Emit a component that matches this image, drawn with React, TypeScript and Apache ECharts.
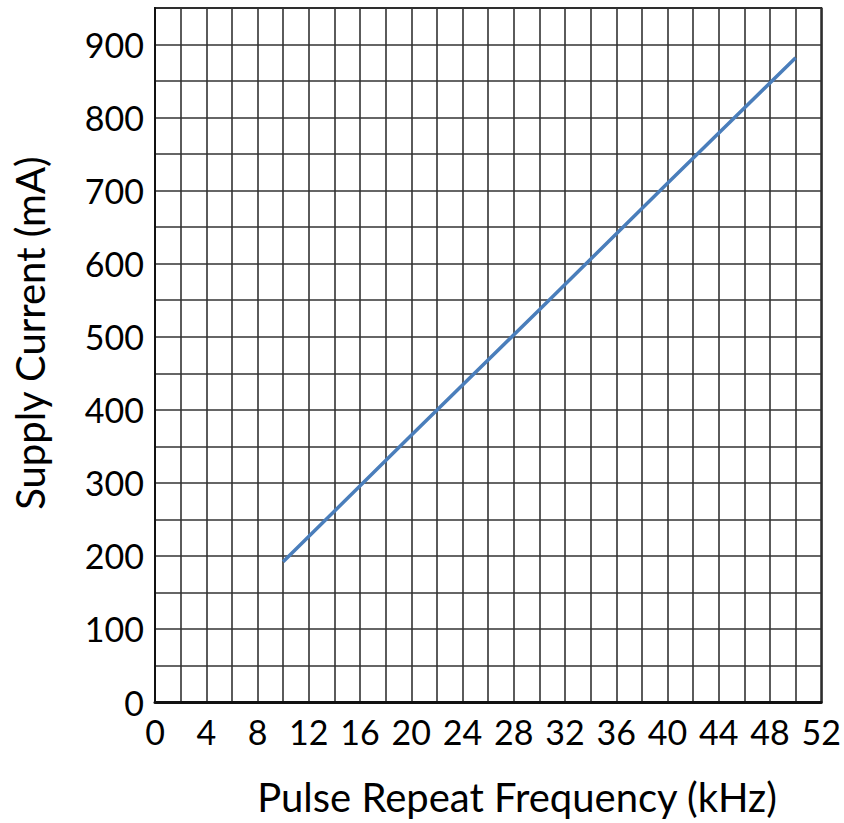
import React, { useEffect, useRef } from "react";
import * as echarts from "echarts";

const frequency = [10, 20, 30, 40, 50];
const current = [192, 365, 537, 710, 882];
const xTitle = "Pulse Repeat Frequency (kHz)";
const yTitle = "Supply Current (mA)";

export default function App() {
  const ref = useRef<HTMLDivElement>(null);
  useEffect(() => {
    const chart = echarts.init(ref.current!, null, { renderer: "svg" });
    const font = "Lato, 'Open Sans', sans-serif";
    chart.setOption({
      animation: false,
      backgroundColor: "#fff",
      grid: {
        left: 155,
        top: 8,
        right: 21,
        bottom: 121,
        show: true,
        borderColor: "#222",
        borderWidth: 2,
      },
      xAxis: {
        type: "value",
        min: 0,
        max: 52,
        interval: 2,
        axisLine: { show: true, lineStyle: { color: "#111", width: 3 } },
        axisTick: { show: false },
        splitLine: { show: true, lineStyle: { color: "#333", width: 1.6 } },
        axisLabel: {
          color: "#000",
          fontSize: 34,
          fontFamily: font,
          margin: 12,
          formatter: (v: number) => (v % 4 === 0 ? String(v) : ""),
        },
      },
      yAxis: {
        type: "value",
        min: 0,
        max: 950,
        interval: 50,
        axisLine: { show: true, lineStyle: { color: "#111", width: 2 } },
        axisTick: { show: false },
        splitLine: { show: true, lineStyle: { color: "#333", width: 1.6 } },
        axisLabel: {
          color: "#000",
          fontSize: 34,
          fontFamily: font,
          margin: 11,
          formatter: (v: number) => (v % 100 === 0 ? String(v) : ""),
        },
      },
      graphic: [
        {
          type: "text",
          x: 517,
          y: 797,
          style: {
            text: xTitle,
            fontSize: 40,
            fontFamily: font,
            fill: "#000",
            align: "center",
            verticalAlign: "middle",
          },
        },
        {
          type: "text",
          x: 30,
          y: 333,
          rotation: Math.PI / 2,
          style: {
            text: yTitle,
            fontSize: 40,
            fontFamily: font,
            fill: "#000",
            align: "center",
            verticalAlign: "middle",
          },
        },
      ],
      series: [
        {
          type: "line",
          data: frequency.map((f, i) => [f, current[i]]),
          showSymbol: false,
          lineStyle: { color: "#4a7ebb", width: 3.5 },
        },
      ],
    });
    return () => chart.dispose();
  }, []);
  return (
    <div
      ref={ref}
      style={{ position: "fixed", left: 0, top: 0, width: 844, height: 823 }}
    />
  );
}
